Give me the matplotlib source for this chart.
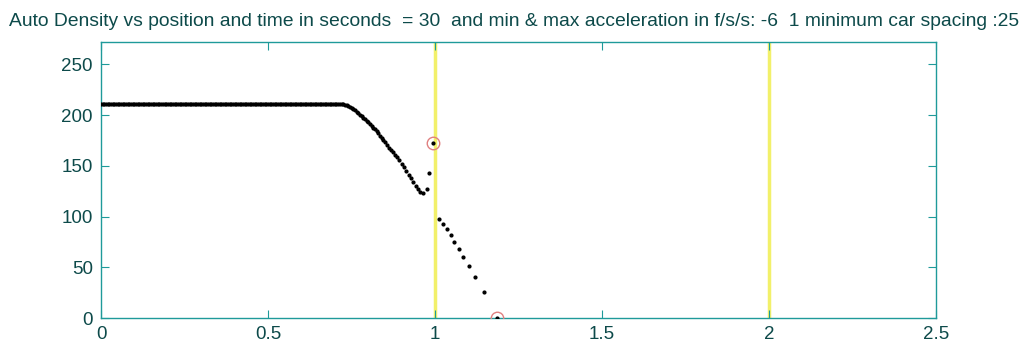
import matplotlib
matplotlib.use("Agg")
import matplotlib.pyplot as plt

plt.rcParams['font.family'] = ['Liberation Sans', 'DejaVu Sans']

# density along the road (cars / mile) vs position (miles)
flat_x = [0.000, 0.005, 0.010, 0.015, 0.020, 0.025, 0.030, 0.035, 0.040, 0.045, 0.050, 0.055,
          0.060, 0.065, 0.070, 0.075, 0.080, 0.085, 0.090, 0.095, 0.100, 0.105, 0.110, 0.115,
          0.120, 0.125, 0.130, 0.135, 0.140, 0.145, 0.150, 0.155, 0.160, 0.165, 0.170, 0.175,
          0.180, 0.185, 0.190, 0.195, 0.200, 0.205, 0.210, 0.215, 0.220, 0.225, 0.230, 0.235,
          0.240, 0.245, 0.250, 0.255, 0.260, 0.265, 0.270, 0.275, 0.280, 0.285, 0.290, 0.295,
          0.300, 0.305, 0.310, 0.315, 0.320, 0.325, 0.330, 0.335, 0.340, 0.345, 0.350, 0.355,
          0.360, 0.365, 0.370, 0.375, 0.380, 0.385, 0.390, 0.395, 0.400, 0.405, 0.410, 0.415,
          0.420, 0.425, 0.430, 0.435, 0.440, 0.445, 0.450, 0.455, 0.460, 0.465, 0.470, 0.475,
          0.480, 0.485, 0.490, 0.495, 0.500, 0.505, 0.510, 0.515, 0.520, 0.525, 0.530, 0.535,
          0.540, 0.545, 0.550, 0.555, 0.560, 0.565, 0.570, 0.575, 0.580, 0.585, 0.590, 0.595,
          0.600, 0.605, 0.610, 0.615, 0.620, 0.625, 0.630, 0.635, 0.640, 0.645, 0.650, 0.655,
          0.660, 0.665, 0.670, 0.675, 0.680, 0.685, 0.690, 0.695, 0.700, 0.705, 0.710, 0.715]
flat_density = 211

slope_x = [0.720, 0.725, 0.730, 0.735, 0.740, 0.745, 0.750, 0.755, 0.760, 0.765,
           0.770, 0.775, 0.780, 0.785, 0.790, 0.795, 0.800, 0.805, 0.810, 0.815,
           0.820, 0.825, 0.830, 0.835, 0.840, 0.845, 0.850, 0.856, 0.862, 0.868,
           0.874, 0.880, 0.886, 0.893, 0.900, 0.907, 0.914, 0.921, 0.928, 0.935,
           0.942, 0.949, 0.956, 0.963, 0.975, 0.983, 0.994]
slope_y = [211, 210.5, 210, 209.5, 209, 208, 207, 206, 205, 203.5,
           202, 200.5, 199, 197.5, 196, 194.5, 193, 191, 189, 187.5,
           186, 184, 182, 179.5, 177, 175, 173, 170.5, 168, 166,
           163.5, 161, 158.5, 155.5, 152, 148.5, 145, 141, 137.5, 134,
           130, 127, 124.5, 123, 127, 143, 172]

tail_x = [1.013, 1.024, 1.036, 1.047, 1.057, 1.072, 1.084, 1.102, 1.120, 1.147, 1.186]
tail_y = [98, 93, 88, 82, 75, 68, 60, 51, 40.5, 26, 0]

# marked cars
mark_x = [0.994, 1.186]
mark_y = [172, 0]

# stop lines
signal_x = [1.0, 2.0]

xs = flat_x + slope_x + tail_x
ys = [flat_density] * len(flat_x) + slope_y + tail_y

axis_col = '#1f9a9a'
text_col = '#0d4a4a'

fig = plt.figure(figsize=(10.29, 3.5), dpi=100)
ax = fig.add_axes([0.0982, 0.0914, 0.8114, 0.7886])

for sx in signal_x:
    ax.axvline(sx, color='#f2f06a', lw=2.5, zorder=1)

ax.plot(xs, ys, linestyle='none', marker='.', color='black', markersize=4, zorder=3)
ax.plot(mark_x, mark_y, linestyle='none', marker='o', markersize=9,
        markerfacecolor='none', markeredgecolor='#e08080', markeredgewidth=1, zorder=4)

ax.set_xlim(0, 2.5)
ax.set_ylim(0, 272)
ax.set_xticks([0, 0.5, 1, 1.5, 2, 2.5])
ax.set_xticklabels(['0', '0.5', '1', '1.5', '2', '2.5'])
ax.set_yticks([0, 50, 100, 150, 200, 250])

for sp in ax.spines.values():
    sp.set_color(axis_col)
    sp.set_linewidth(1.0)
ax.tick_params(direction='in', top=True, right=True, length=6, color=axis_col,
               labelcolor=text_col, labelsize=13.5, pad=6)

fig.text(0.5, 0.94, 'Auto Density vs position and time in seconds  = 30  and min & max acceleration in f/s/s: -6  1 minimum car spacing :25',
         ha='center', va='center', fontsize=13.9, color=text_col)

fig.savefig('out.png', dpi=100)
